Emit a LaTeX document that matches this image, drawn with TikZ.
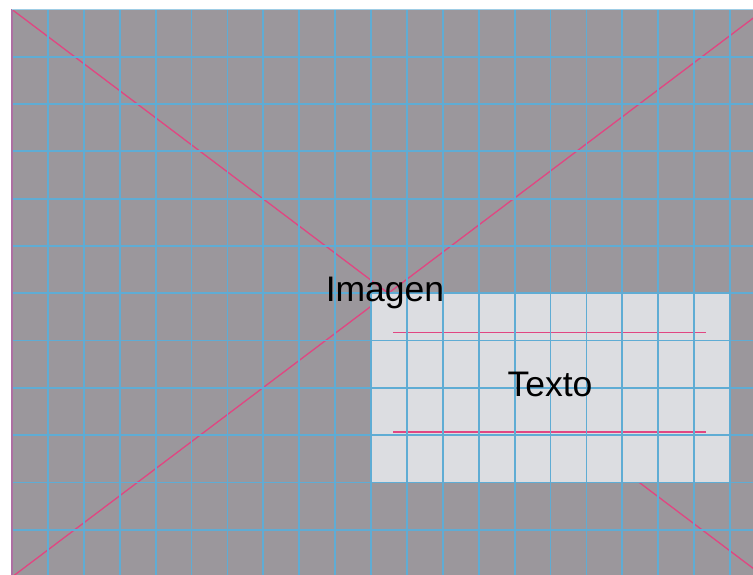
\documentclass[tikz,border=0pt]{standalone}
\usepackage{fontspec}
\setmainfont{Liberation Sans}
\usetikzlibrary{positioning}

\definecolor{fondo}{RGB}{155,151,156}
\definecolor{caja}{RGB}{220,221,225}
\definecolor{rejilla}{RGB}{95,172,212}
\definecolor{guia}{RGB}{225,70,130}

\begin{document}
\begin{tikzpicture}[x=1pt,y=1pt]
\tikzstyle{lin}=[rejilla,line width=1.8pt]
\tikzstyle{diag}=[guia,line width=1.3pt]
\tikzstyle{etq}=[font=\fontsize{35.5}{40}\selectfont,inner sep=0pt,anchor=base]
\useasboundingbox (0,0) rectangle (753,575);
\fill[white] (0,0) rectangle (753,575);
\fill[fondo] (12,0) rectangle (753,565.5);
% diagonales de la imagen
\begin{scope}
\clip (12,0) rectangle (753,565.5);
\draw[diag] (12,565.5) -- (764.6,-2); \draw[diag] (12,-2) -- (764.6,565.5);
\end{scope}
% caja de texto
\node[fill=caja,minimum width=359pt,minimum height=189.2pt,inner sep=0pt,anchor=south west] (caja) at (371,92.5) {};
\draw[diag] (393,242.3) -- (706,242.3); \draw[diag] (393,143) -- (706,143);
% rejilla
\foreach \xx in {47.9,83.8,119.7,155.6,191.5,227.4,263.3,299.2,335.1,371,406.9,442.8,478.7,514.6,550.5,586.4,622.3,658.2,694.1,730}
  \draw[lin] (\xx,0) -- (\xx,565.5);
\foreach \yy in {518.2,470.9,423.6,376.3,329,281.7,234.4,187.1,139.8,92.5,45.2}
  \draw[lin] (12,\yy) -- (753,\yy);
\draw[guia!60!rejilla,line width=1.2pt] (12,0) -- (12,565.5); \draw[rejilla!60,line width=1.2pt] (12,565.5) -- (753,565.5);
\node[etq] (imagen) at (385,273.7) {Imagen};
\node[etq] (texto) at (550,178) {Texto};
\end{tikzpicture}
\end{document}
